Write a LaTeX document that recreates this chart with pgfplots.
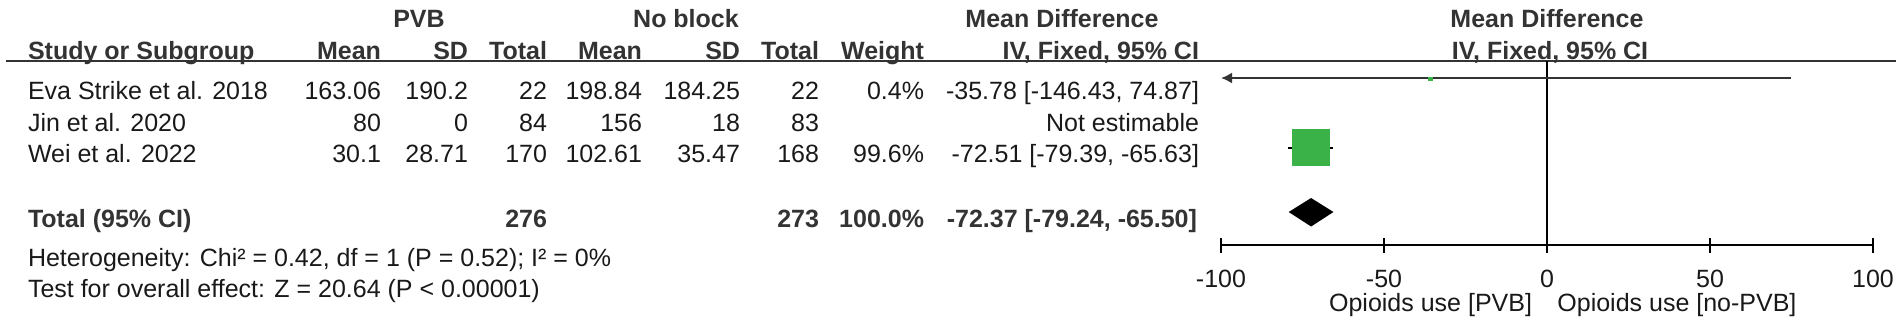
\documentclass[border=0pt]{standalone}
\usepackage{fontspec}
\setmainfont{Liberation Sans}
\usepackage{pgfplots}
\pgfplotsset{compat=1.18}
\usetikzlibrary{arrows.meta}
\definecolor{fgreen}{RGB}{58,178,72}
\definecolor{txt}{RGB}{25,25,25}
\definecolor{hdr}{RGB}{51,51,51}
\newcommand{\tf}{\fontsize{12.5pt}{15pt}\selectfont}
\begin{document}
\begin{tikzpicture}[x=0.5pt,y=-0.5pt,
  every node/.style={inner sep=0pt, outer sep=0pt, font=\tf, text=txt},
  hb/.style={font=\tf\bfseries, text=hdr},
  bt/.style={font=\tf\bfseries, text=hdr}]
\path[use as bounding box] (0,0) rectangle (1902,323);
% header row 1
\node[hb, anchor=base] at (419,27) {PVB};
\node[hb, anchor=base] at (686,27) {No block};
\node[hb, anchor=base] at (1062,27) {Mean Difference};
\node[hb, anchor=base] at (1547,27) {Mean Difference};
% header row 2
\node[hb, anchor=base west] at (28,59) {Study or Subgroup};
\node[hb, anchor=base east] at (381,59) {Mean};
\node[hb, anchor=base east] at (468,59) {SD};
\node[hb, anchor=base east] at (547,59) {Total};
\node[hb, anchor=base east] at (642,59) {Mean};
\node[hb, anchor=base east] at (740,59) {SD};
\node[hb, anchor=base east] at (819,59) {Total};
\node[hb, anchor=base east] at (924,59) {Weight};
\node[hb, anchor=base east] at (1199,59) {IV, Fixed, 95\% CI};
\node[hb, anchor=base] at (1550,59) {IV, Fixed, 95\% CI};
\draw[line width=1pt, hdr] (6,61) -- (1896,61);
% study rows
\node[anchor=base west] at (28,99) {Eva Strike et al. 2018};
\node[anchor=base east] at (381,99) {163.06};
\node[anchor=base east] at (468,99) {190.2};
\node[anchor=base east] at (547,99) {22};
\node[anchor=base east] at (642,99) {198.84};
\node[anchor=base east] at (740,99) {184.25};
\node[anchor=base east] at (819,99) {22};
\node[anchor=base east] at (924,99) {0.4\%};
\node[anchor=base east] at (1199,99) {-35.78 [-146.43, 74.87]};
\node[anchor=base west] at (28,131) {Jin et al. 2020};
\node[anchor=base east] at (381,131) {80};
\node[anchor=base east] at (468,131) {0};
\node[anchor=base east] at (547,131) {84};
\node[anchor=base east] at (642,131) {156};
\node[anchor=base east] at (740,131) {18};
\node[anchor=base east] at (819,131) {83};
\node[anchor=base east] at (1199,131) {Not estimable};
\node[anchor=base west] at (28,162) {Wei et al. 2022};
\node[anchor=base east] at (381,162) {30.1};
\node[anchor=base east] at (468,162) {28.71};
\node[anchor=base east] at (547,162) {170};
\node[anchor=base east] at (642,162) {102.61};
\node[anchor=base east] at (740,162) {35.47};
\node[anchor=base east] at (819,162) {168};
\node[anchor=base east] at (924,162) {99.6\%};
\node[anchor=base east] at (1199,162) {-72.51 [-79.39, -65.63]};
% total
\node[bt, anchor=base west] at (28,227) {Total (95\% CI)};
\node[bt, anchor=base east] at (547,227) {276};
\node[bt, anchor=base east] at (819,227) {273};
\node[bt, anchor=base east] at (924,227) {100.0\%};
\node[bt, anchor=base east] at (1197,227) {-72.37 [-79.24, -65.50]};
\node[anchor=base west] at (28,266) {Heterogeneity: Chi² = 0.42, df = 1 (P = 0.52); I² = 0\%};
\node[anchor=base west] at (28,297) {Test for overall effect: Z = 20.64 (P < 0.00001)};
% forest plot
\begin{axis}[
  at={(610.5pt,-122.5pt)}, anchor=south west,
  width=326pt, height=92pt, scale only axis,
  xmin=-100, xmax=100, ymin=-245, ymax=-61,
  enlargelimits=false, clip=false,
  axis x line=bottom, axis y line=none,
  x axis line style={-, line width=0.8pt, black},
  xtick={-100,-50,0,50,100},
  xticklabels={-100,-50,0,50,100},
  tick align=center, major tick length=7.5pt,
  tick style={line width=0.8pt, black},
  xticklabel style={font=\tf, text=txt, anchor=center, yshift=-13pt},
]
\addplot[black, line width=0.6pt] coordinates {(0,-61) (0,-245)};
% Eva Strike: CI beyond the left limit
\addplot[line width=1pt, black!80, -{Latex[length=5.5pt,width=5.5pt]}] coordinates {(74.87,-78) (-100,-78)};
\addplot[only marks, mark=square*, mark size=0.9pt, fgreen] coordinates {(-35.78,-79)};
% Wei
\addplot[line width=1pt, black] coordinates {(-79.39,-147.5) (-65.63,-147.5)};
\addplot[fill=fgreen, draw=none] coordinates {(-78.34,-129) (-66.68,-129) (-66.68,-166) (-78.34,-166)} -- cycle;
% total diamond
\addplot[fill=black, draw=none] coordinates {(-79.24,-212) (-72.37,-198) (-65.50,-212) (-72.37,-226.5)} -- cycle;
\node[anchor=base east, text=txt] at (axis cs:-4.6,-311) {Opioids use [PVB]};
\node[anchor=base west, text=txt] at (axis cs:3.2,-311) {Opioids use [no-PVB]};
\end{axis}
\end{tikzpicture}
\end{document}
